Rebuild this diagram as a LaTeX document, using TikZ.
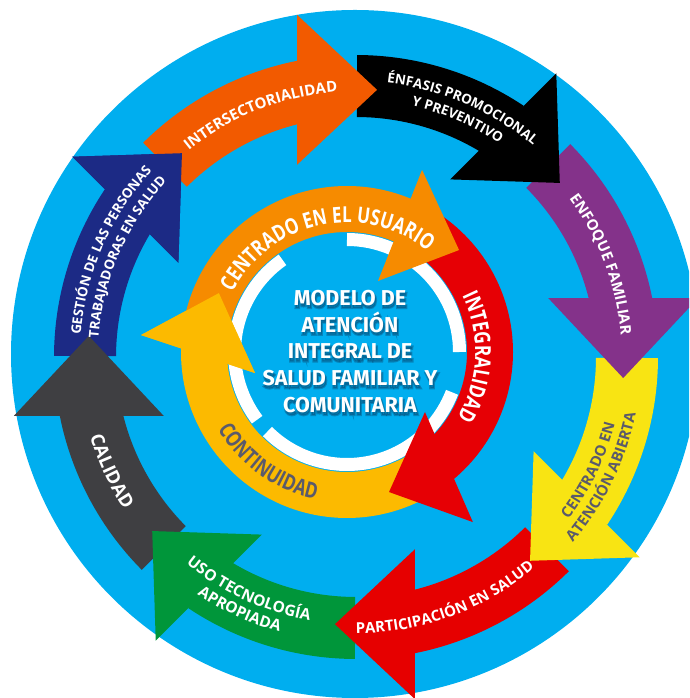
\documentclass[tikz,border=0pt]{standalone}
\usepackage{fontspec}
\setmainfont{Open Sans}
\newfontfamily\condfont[FakeStretch=0.78]{Open Sans}
\newfontfamily\firafont{Fira Sans}
\newfontfamily\firashadow[BoldFeatures={FakeBold=10}]{Fira Sans}
\usetikzlibrary{decorations.text,calc}
\definecolor{bgblue}{HTML}{00AEEF}
\definecolor{oOrange}{HTML}{F25A00}
\definecolor{oBlack}{HTML}{000000}
\definecolor{oPurple}{HTML}{84328A}
\definecolor{oYellow}{HTML}{F8E413}
\definecolor{oRed}{HTML}{E60000}
\definecolor{oGreen}{HTML}{00963A}
\definecolor{oGray}{HTML}{3F3F42}
\definecolor{oNavy}{HTML}{1C2A85}
\definecolor{iOrange}{HTML}{F68B00}
\definecolor{iRed}{HTML}{E60005}
\definecolor{iGold}{HTML}{FCBA00}
\definecolor{txtGray}{HTML}{5A5A6B}
\definecolor{shadowc}{HTML}{0B2545}
% outer arrow: band + head, canonical head pointing east, rotated about C
\newcommand{\OuterArrow}[2]{%
  \begin{scope}[shift={(C)},rotate=#1]
    \fill[#2] (134.8:302) arc[start angle=134.8,end angle=101.26,radius=302]
      -- (101.26:240) arc[start angle=101.26,end angle=134.8,radius=240] -- cycle;
    \fill[#2] (-58.97,342.2) -- (21.03,267.17) -- (-58.97,192.2) -- cycle;
  \end{scope}}
\newcommand{\OuterHead}[2]{%
  \begin{scope}[shift={(C)},rotate=#1]
    \fill[#2] (-58.97,342.2) -- (21.03,267.17) -- (-58.97,192.2) -- cycle;
  \end{scope}}
% text along arcs: center, mid angle, radius, half span, colour, font, text
\newcommand{\CWtext}[7]{%
  \path[shift={(#1)},decorate,decoration={text along path,text align=center,
    text color=#5,text={|#6|#7}}]
    ({#2+#4}:#3) arc[start angle={#2+#4},end angle={#2-#4},radius=#3];}
\newcommand{\CCWtext}[7]{%
  \path[shift={(#1)},decorate,decoration={text along path,text align=center,
    text color=#5,text={|#6|#7}}]
    ({#2-#4}:#3) arc[start angle={#2-#4},end angle={#2+#4},radius=#3];}
\newcommand{\TitleText}{MODELO DE\\ATENCIÓN\\INTEGRAL DE\\SALUD FAMILIAR Y\\COMUNITARIA}
\tikzset{
  centertext/.style={align=center,font=\firafont\bfseries\fontsize{21.5}{26.75}\selectfont},
  shadowtext/.style={align=center,font=\firashadow\bfseries\fontsize{21.5}{26.75}\selectfont},
  ringdash/.style={white,line width=13pt}
}
\begin{document}
\begin{tikzpicture}[x=1pt,y=1pt]
\useasboundingbox (0,0) rectangle (689,698);
\clip (0,0) rectangle (689,698);
\coordinate (C) at (356,341);
\coordinate (Ci) at (347,346);
\coordinate (M) at (350,346.5);
% background disc
\fill[bgblue] (355,344) circle[radius=344];
% outer ring of arrows (drawn so each head lies over the next tail)
\OuterArrow{45}{oNavy}
\OuterArrow{90}{oGray}
\OuterArrow{135}{oGreen}
\OuterArrow{180}{oRed}
\OuterArrow{-135}{oYellow}
\OuterArrow{-90}{oPurple}
\OuterArrow{-45}{oBlack}
\OuterArrow{0}{oOrange}
\OuterHead{45}{oNavy}
% white dashed ring
\begin{scope}[shift={(Ci)}]
  \draw[ringdash] (0:112.5) arc[start angle=0,end angle=90,radius=112.5];
  \draw[ringdash] (125:112.5) arc[start angle=125,end angle=217,radius=112.5];
  \draw[ringdash] (225:112.5) arc[start angle=225,end angle=339,radius=112.5];
% inner arrows
  \fill[iGold] (178.7:166) arc[start angle=178.7,end angle=300,radius=166]
    -- (300:120) arc[start angle=300,end angle=178.7,radius=120] -- cycle;
  \fill[iGold] (175.3:206.7) -- (155.3:141) -- (192.9:94.4) -- cycle;
  \fill[iRed] (58:166) arc[start angle=58,end angle=-50,radius=166]
    -- (-50:120) arc[start angle=-50,end angle=58,radius=120] -- cycle;
  \fill[iRed] (-37.6:98.4) -- (-73.3:146.2) -- (-53.5:211.6) -- cycle;
  \fill[iOrange] (175:166) arc[start angle=175,end angle=67,radius=166]
    -- (67:120) arc[start angle=67,end angle=175,radius=120] -- cycle;
  \fill[iOrange] (67.6:197) -- (42.3:151.5) -- (66.4:77.5) -- cycle;
  \fill[iGold] (175.3:206.7) -- (155.3:141) -- (192.9:94.4) -- cycle;
\end{scope}
% outer labels
\CWtext{C}{111.5}{265.6}{40}{white}{\bfseries\fontsize{15}{15}\selectfont}{INTERSECTORIALIDAD}
\CWtext{C}{66.8}{275.7}{40}{white}{\bfseries\fontsize{13.5}{13.5}\selectfont}{ÉNFASIS PROMOCIONAL}
\CWtext{C}{66.8}{257.2}{40}{white}{\bfseries\fontsize{13.5}{13.5}\selectfont}{Y PREVENTIVO}
\CWtext{C}{20.7}{265.6}{40}{white}{\bfseries\fontsize{15}{15}\selectfont}{ENFOQUE FAMILIAR}
\CCWtext{C}{-26}{267.4}{40}{txtGray}{\bfseries\fontsize{15}{15}\selectfont}{CENTRADO EN}
\CCWtext{C}{-26}{285.4}{40}{txtGray}{\bfseries\fontsize{15}{15}\selectfont}{ATENCIÓN ABIERTA}
\CCWtext{C}{-69.9}{276.4}{40}{white}{\bfseries\fontsize{15}{15}\selectfont}{PARTICIPACIÓN EN SALUD}
\CCWtext{C}{-114.7}{267.5}{40}{white}{\bfseries\fontsize{15.5}{15.5}\selectfont}{USO TECNOLOGÍA}
\CCWtext{C}{-114.7}{285.5}{40}{white}{\bfseries\fontsize{15.5}{15.5}\selectfont}{APROPIADA}
\CCWtext{C}{-155}{277.6}{40}{white}{\bfseries\fontsize{18.5}{18.5}\selectfont}{CALIDAD}
\CWtext{C}{156.5}{276.2}{40}{white}{\bfseries\fontsize{13.5}{13.5}\selectfont}{GESTIÓN DE LAS PERSONAS}
\CWtext{C}{156.5}{258.2}{40}{white}{\bfseries\fontsize{13.5}{13.5}\selectfont}{TRABAJADORAS EN SALUD}
% inner labels
\CWtext{Ci}{101.9}{129.2}{75}{white}{\condfont\bfseries\fontsize{22}{22}\selectfont}{CENTRADO EN EL USUARIO}
\CWtext{Ci}{-2.3}{128.2}{75}{white}{\condfont\bfseries\fontsize{22}{22}\selectfont}{INTEGRALIDAD}
\CCWtext{Ci}{-125.5}{150.8}{75}{txtGray}{\condfont\bfseries\fontsize{22}{22}\selectfont}{CONTINUIDAD}
% centre title with soft shadow
\node[shadowtext,text=shadowc,opacity=0.3,name=shadow] at ($(M)+(1,-2.5)$) {\TitleText};
\node[centertext,text=white,name=title] at (M) {\TitleText};
\end{tikzpicture}
\end{document}
